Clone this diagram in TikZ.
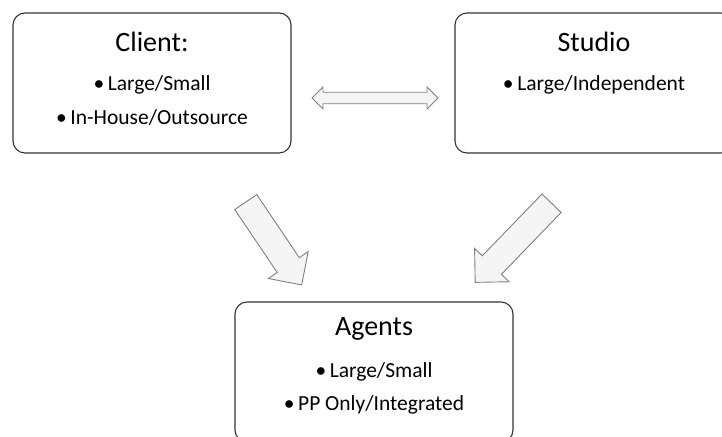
\documentclass[tikz,border=0pt]{standalone}
\usepackage{fontspec}
\setmainfont{Carlito}
\usetikzlibrary{shapes.arrows}

\begin{document}
\begin{tikzpicture}[x=1pt,y=-1pt,
    box/.style={draw=black!80, line width=1.1pt, rounded corners=12pt, minimum width=278pt, minimum height=140pt},
    head/.style={font=\fontsize{28}{32}\selectfont},
    item/.style={font=\fontsize{21.5}{25}\selectfont},
    flow/.style={fill=black!4, draw=black!50, line width=0.9pt, inner sep=0pt}]
\def\bul{\textbullet\,}
\useasboundingbox (0,0) rectangle (722,436);
    % the three parties
    \node[box] (client) at (152,83) {};
    \node[box] (studio) at (594,83) {};
    \node[box] (agents) at (374,372) {};
    \node[head] (clienthead) at ([yshift=-29pt]client.north) {Client:};
    \node[item] (clienta) at ([yshift=-72pt]client.north) {\bul Large/Small};
    \node[item] (clientb) at ([yshift=-105pt]client.north) {\bul In-House/Outsource};
    \node[head] (studiohead) at ([yshift=-29pt]studio.north) {Studio};
    \node[item] (studioa) at ([yshift=-72pt]studio.north) {\bul Large/Independent};
    \node[head] (agentshead) at ([yshift=-27pt]agents.north) {Agents};
    \node[item] (agentsa) at ([yshift=-70pt]agents.north) {\bul Large/Small};
    \node[item] (agentsb) at ([yshift=-103pt]agents.north) {\bul PP Only/Integrated};
    % block arrows between them
    \node[flow, double arrow, minimum height=126pt, minimum width=22pt, double arrow head extend=5pt, inner ysep=5pt] (link) at (375,98) {};
    \node[flow, single arrow, minimum height=100pt, minimum width=48pt, single arrow head extend=10pt, inner ysep=12pt, rotate=-56] (toagentsl) at (270,238) {};
    \node[flow, single arrow, minimum height=110pt, minimum width=48pt, single arrow head extend=10pt, inner ysep=12pt, rotate=-134] (toagentsr) at (518,238) {};
\end{tikzpicture}
\end{document}
